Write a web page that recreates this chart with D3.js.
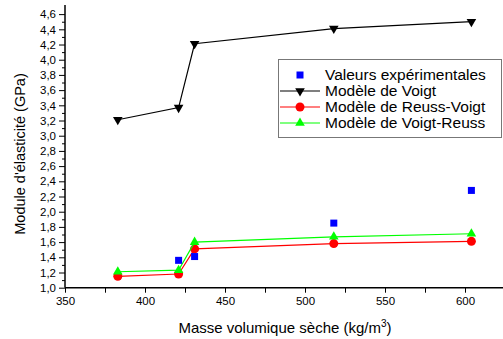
<!DOCTYPE html>
<html>
<head>
<meta charset="utf-8">
<script src="https://cdn.jsdelivr.net/npm/d3@7"></script>
<style>
  body { margin: 0; background: #fff; }
  text { font-family: "Liberation Sans", Arial, sans-serif; }
</style>
</head>
<body>
<div id="chart"></div>
<script>
// data
var densite = [383, 421, 431, 518, 604];
var experimental = [null, 1.36, 1.41, 1.85, 2.28];
var voigt = [3.21, 3.37, 4.21, 4.41, 4.50];
var reussVoigt = [1.15, 1.18, 1.51, 1.58, 1.61];
var voigtReuss = [1.21, 1.23, 1.60, 1.67, 1.71];
var xTicks = [350, 400, 450, 500, 550, 600];
var legendLabels = ["Valeurs expérimentales", "Modèle de Voigt", "Modèle de Reuss-Voigt", "Modèle de Voigt-Reuss"];

var W = 503, H = 339;

var svg = d3.select("#chart").append("svg")
    .attr("width", W)
    .attr("height", H);

var x = d3.scaleLinear().domain([350, 625]).range([65, 505]);
var y = d3.scaleLinear().domain([1.0, 4.72]).range([287.7, 5]);

// axes
var yMajor = d3.range(10, 47, 2).map(d => d / 10);
var yMinor = d3.range(11, 47, 2).map(d => d / 10);

svg.append("g")
  .attr("transform", "translate(65,0)")
  .call(d3.axisLeft(y).tickValues(yMinor).tickSize(3).tickFormat(""))
  .call(g => g.select(".domain").remove())
  .call(g => g.selectAll("line").attr("stroke", "#000"));

var yAxis = svg.append("g")
  .attr("transform", "translate(65,0)")
  .call(d3.axisLeft(y).tickValues(yMajor).tickSize(6).tickPadding(3)
        .tickFormat(d => d3.format(".1f")(d).replace(".", ",")));
yAxis.select(".domain").attr("d", "M0," + y(4.72) + "V" + y(1.0)).attr("stroke-width", 1.5);
yAxis.selectAll("text").attr("font-size", 11.5).attr("fill", "#000");

svg.append("g")
  .attr("transform", "translate(0," + y(1.0) + ")")
  .call(d3.axisBottom(x).tickValues(d3.range(375, 626, 50)).tickSize(5).tickFormat(""))
  .call(g => g.select(".domain").remove());

var xAxis = svg.append("g")
  .attr("transform", "translate(0," + y(1.0) + ")")
  .call(d3.axisBottom(x).tickValues(xTicks).tickSize(5).tickPadding(4));
xAxis.select(".domain").attr("d", "M65,0H503").attr("stroke-width", 1.5);
xAxis.selectAll("text").attr("font-size", 11.5).attr("fill", "#000");

// titles
svg.append("text")
  .attr("x", 285).attr("y", 333)
  .attr("text-anchor", "middle")
  .attr("font-size", 15)
  .html('Masse volumique sèche (kg/m<tspan dy="-6" font-size="10">3</tspan><tspan dy="6">)</tspan>');

svg.append("text")
  .attr("transform", "translate(25,154) rotate(-90)")
  .attr("text-anchor", "middle")
  .attr("font-size", 14.5)
  .text("Module d'élasticité (GPa)");

// series
var series = [
  { vals: voigt, color: "#000000", shape: "down" },
  { vals: reussVoigt, color: "#ff0000", shape: "circle" },
  { vals: voigtReuss, color: "#00ff00", shape: "up" }
];

var triUp = d3.symbol().type(d3.symbolTriangle).size(40);
function marker(g, shape, color, cx, cy) {
  if (shape === "circle") {
    g.append("circle").attr("cx", cx).attr("cy", cy).attr("r", 4.5).attr("fill", color);
  } else if (shape === "square") {
    g.append("rect").attr("x", cx - 3.5).attr("y", cy - 3.5).attr("width", 7).attr("height", 7).attr("fill", color);
  } else {
    g.append("path").attr("d", triUp())
      .attr("transform", "translate(" + cx + "," + cy + ")" + (shape === "down" ? " rotate(180)" : ""))
      .attr("fill", color);
  }
}

var line = d3.line().x((d, i) => x(densite[i])).y(d => y(d));

series.forEach(function(s) {
  svg.append("path")
    .attr("d", line(s.vals))
    .attr("fill", "none")
    .attr("stroke", s.color)
    .attr("stroke-width", 1.2);
  var g = svg.append("g");
  s.vals.forEach(function(v, i) { marker(g, s.shape, s.color, x(densite[i]), y(v)); });
});

var expG = svg.append("g");
experimental.forEach(function(v, i) {
  if (v != null) marker(expG, "square", "#0000ff", x(densite[i]), y(v));
});

// legend
var leg = svg.append("g");
leg.append("rect")
  .attr("x", 278.5).attr("y", 59.5)
  .attr("width", 223).attr("height", 78)
  .attr("fill", "#fff").attr("stroke", "#777").attr("stroke-width", 1);

var legItems = [
  { color: "#0000ff", shape: "square", line: false },
  { color: "#000000", shape: "down", line: true },
  { color: "#ff0000", shape: "circle", line: true },
  { color: "#00ff00", shape: "up", line: true }
];
legItems.forEach(function(it, i) {
  var cy = 75 + i * 16;
  if (it.line) {
    leg.append("line").attr("x1", 280).attr("x2", 320).attr("y1", cy).attr("y2", cy)
      .attr("stroke", it.color).attr("stroke-width", 1.2);
  }
  marker(leg, it.shape, it.color, 300, cy);
  leg.append("text")
    .attr("x", 325).attr("y", cy + 5)
    .attr("font-size", 15.5)
    .text(legendLabels[i]);
});
</script>
</body>
</html>
